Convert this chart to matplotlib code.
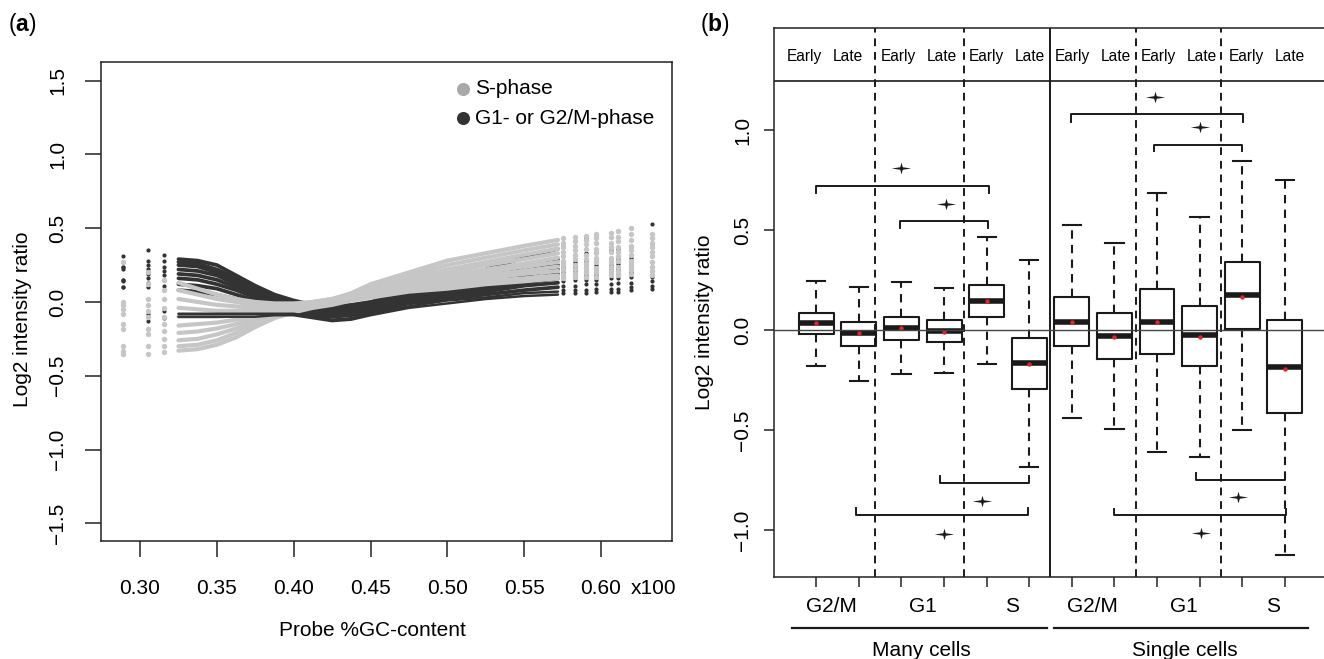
import matplotlib
matplotlib.use("Agg")
import matplotlib.pyplot as plt
from matplotlib.path import Path
from matplotlib.transforms import blended_transform_factory as blend

plt.rcParams['font.family'] = ['Liberation Sans', 'DejaVu Sans']
plt.rcParams['mathtext.fontset'] = 'custom'
plt.rcParams['mathtext.bf'] = 'Liberation Sans:bold'

W, H = 1324, 659

# ---------------- panel (a) data ----------------
gc_knots = [0.325, 0.3375, 0.35, 0.3625, 0.375, 0.3875, 0.40, 0.4125, 0.425, 0.4375,
            0.45, 0.475, 0.50, 0.525, 0.55, 0.572]
gc_left = [0.2887, 0.305, 0.3156]
gc_right = [0.5755, 0.583, 0.590, 0.5965, 0.6064, 0.6111, 0.6195, 0.6329]

# S-phase curves
s_curves = [
    [0.13, 0.09, 0.05, 0.02, 0.00, -0.01, -0.01, 0.00, 0.02, 0.06, 0.12, 0.20, 0.28, 0.33, 0.38, 0.42],
    [0.08, 0.05, 0.02, 0.00, -0.02, -0.02, -0.02, 0.00, 0.02, 0.05, 0.11, 0.18, 0.25, 0.30, 0.35, 0.39],
    [0.02, 0.00, -0.02, -0.03, -0.04, -0.03, -0.03, -0.01, 0.01, 0.05, 0.10, 0.16, 0.22, 0.27, 0.32, 0.36],
    [-0.04, -0.05, -0.06, -0.06, -0.05, -0.04, -0.03, -0.01, 0.01, 0.04, 0.09, 0.15, 0.20, 0.25, 0.29, 0.33],
    [-0.10, -0.10, -0.10, -0.09, -0.07, -0.05, -0.04, -0.02, 0.01, 0.04, 0.08, 0.13, 0.18, 0.22, 0.26, 0.30],
    [-0.16, -0.15, -0.14, -0.12, -0.09, -0.06, -0.04, -0.02, 0.00, 0.03, 0.07, 0.12, 0.16, 0.20, 0.24, 0.27],
    [-0.21, -0.20, -0.18, -0.15, -0.11, -0.07, -0.05, -0.02, 0.00, 0.03, 0.06, 0.10, 0.14, 0.18, 0.21, 0.24],
    [-0.26, -0.25, -0.22, -0.18, -0.13, -0.08, -0.05, -0.03, -0.01, 0.02, 0.05, 0.09, 0.12, 0.16, 0.19, 0.21],
    [-0.30, -0.29, -0.26, -0.21, -0.15, -0.10, -0.06, -0.03, -0.01, 0.02, 0.04, 0.08, 0.11, 0.14, 0.16, 0.18],
    [-0.33, -0.32, -0.29, -0.24, -0.17, -0.11, -0.07, -0.04, -0.02, 0.01, 0.03, 0.07, 0.09, 0.12, 0.14, 0.16],
]
s_left = [
    [0.27, 0.20, 0.15], [0.00, 0.12, 0.08], [-0.02, 0.02, 0.02], [-0.05, -0.02, -0.04],
    [-0.08, -0.06, -0.10], [-0.15, -0.10, -0.15], [-0.18, -0.18, -0.20],
    [-0.30, -0.22, -0.25], [-0.33, -0.30, -0.30], [-0.35, -0.35, -0.34],
]
s_right = [
    [0.43, 0.44, 0.45, 0.46, 0.47, 0.48, 0.50, 0.46],
    [0.40, 0.41, 0.42, 0.43, 0.44, 0.44, 0.46, 0.43],
    [0.37, 0.38, 0.39, 0.40, 0.40, 0.41, 0.42, 0.40],
    [0.34, 0.35, 0.36, 0.36, 0.37, 0.37, 0.38, 0.37],
    [0.31, 0.32, 0.32, 0.33, 0.34, 0.34, 0.35, 0.34],
    [0.28, 0.29, 0.29, 0.30, 0.30, 0.31, 0.32, 0.31],
    [0.25, 0.25, 0.26, 0.27, 0.27, 0.28, 0.28, 0.27],
    [0.22, 0.22, 0.23, 0.23, 0.24, 0.24, 0.25, 0.24],
    [0.19, 0.19, 0.20, 0.20, 0.21, 0.21, 0.22, 0.21],
    [0.16, 0.17, 0.17, 0.17, 0.18, 0.18, 0.19, 0.18],
]
# G1 / G2/M curves
g_curves = [
    [0.29, 0.28, 0.25, 0.18, 0.11, 0.05, 0.01, -0.02, -0.03, -0.02, 0.00, 0.07, 0.14, 0.22, 0.30, 0.36],
    [0.27, 0.26, 0.22, 0.16, 0.09, 0.04, 0.00, -0.03, -0.04, -0.03, -0.01, 0.05, 0.12, 0.18, 0.24, 0.29],
    [0.25, 0.24, 0.20, 0.14, 0.08, 0.03, -0.01, -0.04, -0.05, -0.04, -0.02, 0.04, 0.10, 0.16, 0.21, 0.25],
    [0.22, 0.21, 0.18, 0.12, 0.06, 0.02, -0.02, -0.05, -0.06, -0.05, -0.03, 0.03, 0.08, 0.13, 0.18, 0.22],
    [0.19, 0.18, 0.15, 0.10, 0.05, 0.01, -0.03, -0.06, -0.07, -0.06, -0.04, 0.02, 0.07, 0.11, 0.15, 0.19],
    [0.16, 0.15, 0.12, 0.08, 0.03, 0.00, -0.04, -0.07, -0.08, -0.07, -0.05, 0.01, 0.05, 0.09, 0.13, 0.16],
    [0.12, 0.11, 0.09, 0.05, 0.01, -0.02, -0.05, -0.08, -0.09, -0.08, -0.06, 0.00, 0.04, 0.07, 0.11, 0.13],
    [0.08, 0.07, 0.05, 0.02, -0.01, -0.04, -0.06, -0.09, -0.10, -0.09, -0.07, -0.01, 0.02, 0.05, 0.08, 0.10],
    [-0.08, -0.08, -0.08, -0.08, -0.08, -0.08, -0.08, -0.10, -0.12, -0.11, -0.08, -0.03, 0.01, 0.03, 0.06, 0.07],
    [-0.10, -0.10, -0.10, -0.10, -0.10, -0.09, -0.09, -0.11, -0.13, -0.12, -0.09, -0.04, -0.01, 0.02, 0.04, 0.05],
]
g_left = [
    [0.31, 0.35, 0.32], [0.27, 0.28, 0.28], [0.24, 0.25, 0.24], [0.22, 0.22, 0.21],
    [0.15, 0.19, 0.18], [0.10, 0.16, 0.15], [0.14, 0.13, 0.11], [0.24, 0.10, 0.08],
    [0.10, -0.08, -0.06], [0.15, -0.13, -0.11],
]
g_right = [
    [0.38, 0.41, 0.43, 0.44, 0.47, 0.48, 0.50, 0.53],
    [0.31, 0.32, 0.33, 0.34, 0.35, 0.36, 0.37, 0.39],
    [0.27, 0.27, 0.28, 0.28, 0.29, 0.29, 0.30, 0.31],
    [0.24, 0.24, 0.25, 0.25, 0.25, 0.26, 0.26, 0.27],
    [0.20, 0.21, 0.21, 0.22, 0.22, 0.22, 0.23, 0.24],
    [0.17, 0.18, 0.18, 0.18, 0.19, 0.19, 0.20, 0.21],
    [0.14, 0.15, 0.15, 0.15, 0.16, 0.16, 0.17, 0.17],
    [0.11, 0.11, 0.12, 0.12, 0.12, 0.13, 0.13, 0.14],
    [0.08, 0.08, 0.08, 0.09, 0.09, 0.09, 0.10, 0.11],
    [0.06, 0.06, 0.06, 0.07, 0.07, 0.07, 0.08, 0.09],
]
a_xticks = [0.30, 0.35, 0.40, 0.45, 0.50, 0.55, 0.60]
a_yticks = [-1.5, -1.0, -0.5, 0.0, 0.5, 1.0, 1.5]

# ---------------- panel (b) data ----------------
box_pos = list(range(1, 13))
whislo = [-0.18, -0.255, -0.22, -0.217, -0.172, -0.686, -0.442, -0.497, -0.608, -0.635, -0.502, -1.124]
q1 = [-0.022, -0.08, -0.048, -0.058, 0.065, -0.297, -0.078, -0.147, -0.12, -0.18, 0.005, -0.417]
med = [0.033, -0.017, 0.01, -0.003, 0.145, -0.165, 0.04, -0.03, 0.04, -0.027, 0.175, -0.183]
q3 = [0.087, 0.038, 0.067, 0.05, 0.225, -0.038, 0.163, 0.087, 0.203, 0.118, 0.34, 0.05]
whishi = [0.245, 0.215, 0.238, 0.208, 0.465, 0.35, 0.525, 0.433, 0.685, 0.567, 0.845, 0.75]
means = [0.033, -0.017, 0.01, -0.008, 0.145, -0.17, 0.04, -0.037, 0.04, -0.035, 0.163, -0.195]

header_pos = [0.73, 1.74, 2.93, 3.96, 5.0, 6.02, 7.01, 8.04, 9.04, 10.06, 11.1, 12.12]
header_lab = ["Early", "Late"] * 6
dash_div = [2.38, 4.47, 8.51, 10.51]
solid_div = 6.49
phase_pos = [1.36, 3.5, 5.6, 7.48, 9.64, 11.72]
phase_lab = ["G2/M", "G1", "S", "G2/M", "G1", "S"]
group_span = [(0.43, 6.42), (6.57, 12.54)]
group_mid = [3.46, 9.66]
group_lab = ["Many cells", "Single cells"]

# brackets: (x1, x2, y, tip end)
brackets = [(1.0, 5.05, 0.72, 0.683), (2.96, 5.03, 0.543, 0.508),
            (6.97, 11.02, 1.078, 1.04), (8.92, 10.99, 0.927, 0.893),
            (3.9, 6.0, -0.764, -0.728), (1.93, 5.97, -0.926, -0.89),
            (9.91, 12.0, -0.749, -0.715), (7.99, 12.02, -0.925, -0.897)]
star_x = [3.0, 4.04, 8.96, 10.0, 4.9, 3.99, 10.91, 10.04]
star_y = [0.808, 0.632, 1.167, 1.015, -0.854, -1.019, -0.833, -1.017]
b_yticks = [-1.0, -0.5, 0.0, 0.5, 1.0]

LIGHT = '#c6c6c6'
DARK = '#333333'
FS = 15

fig = plt.figure(figsize=(W / 100, H / 100), dpi=100)
fig.patch.set_facecolor('white')


def fx(p):
    return p / W


def fy(p):
    return 1 - p / H


def lab(v):
    return f"{v:.1f}".replace('-', '\u2212')


# ================= panel (a) =================
ax = fig.add_axes([fx(101.3), fy(541), fx(671.7 - 101.3), (541 - 62.3) / H])
ax.set_xlim(0.2748, 0.646)
ax.set_ylim(-1.62, 1.624)

n_top = 8  # upper dark arrays go under the grey band, the two low ones over it
for i in range(len(g_curves)):
    z = 2 if i < n_top else 4
    lw = 2.7 if i < n_top else 1.8
    ax.plot(gc_knots, g_curves[i], color=DARK, lw=lw, solid_capstyle='round',
            solid_joinstyle='round', zorder=z)
    ax.plot(gc_left, g_left[i], 'o', color=DARK, ms=3.0, mew=0, zorder=2)
    ax.plot(gc_right, g_right[i], 'o', color=DARK, ms=3.0, mew=0, zorder=2)
for i in range(len(s_curves)):
    ax.plot(gc_knots, s_curves[i], color=LIGHT, lw=3.0, solid_capstyle='round',
            solid_joinstyle='round', zorder=3)
    ax.plot(gc_left, s_left[i], 'o', color=LIGHT, ms=3.9, mew=0, zorder=3)
    ax.plot(gc_right, s_right[i], 'o', color=LIGHT, ms=3.9, mew=0, zorder=3)

ax.set_xticks(a_xticks)
ax.set_yticks(a_yticks)
ax.tick_params(direction='out', length=11.3, width=1.1, color='#222222',
               labelbottom=False, labelleft=False)
for s in ax.spines.values():
    s.set_linewidth(1.1)
    s.set_color('#222222')

tb = blend(ax.transData, fig.transFigure)
for v in a_xticks:
    ax.text(v, fy(589), f"{v:.2f}", transform=tb, ha='center', va='center', fontsize=FS)
fig.text(fx(654), fy(589), "x100", ha='center', va='center', fontsize=FS)
tl = blend(fig.transFigure, ax.transData)
for v in a_yticks:
    ax.text(fx(58), v, lab(v), transform=tl, rotation=90, ha='center', va='center', fontsize=FS)

fig.text(fx(372), fy(630), "Probe %GC-content", ha='center', va='center', fontsize=FS)
fig.text(fx(23), fy(319), "Log2 intensity ratio", rotation=90, ha='center', va='center', fontsize=FS)
fig.text(fx(8), fy(25), r"($\mathbf{a}$)", ha='left', va='center', fontsize=16.5)

# legend
for (py, c, t) in [(88.6, '#a8a8a8', "S-phase"), (118.4, DARK, "G1- or G2/M-phase")]:
    ax.plot([fx(463)], [fy(py)], 'o', color=c, ms=9.4, mew=0, transform=fig.transFigure, zorder=5)
    fig.text(fx(475), fy(py), t, ha='left', va='center', fontsize=FS)

# ================= panel (b) =================
bx = fig.add_axes([fx(773.7), fy(577.3), (1327.4 - 773.7) / W, (577.3 - 27.7) / H])
bx.set_xlim(0, 13)
bx.set_ylim(-1.2365, 1.5115)

stats = []
for i in range(12):
    stats.append(dict(whislo=whislo[i], q1=q1[i], med=med[i], q3=q3[i],
                      whishi=whishi[i], mean=means[i], fliers=[]))
bx.bxp(stats, positions=box_pos, widths=0.82, capwidths=0.43, showmeans=True,
       manage_ticks=False,
       boxprops=dict(color='#1a1a1a', lw=1.5),
       whiskerprops=dict(color='#1a1a1a', lw=1.5, linestyle=(0, (4, 3))),
       capprops=dict(color='#1a1a1a', lw=1.5),
       medianprops=dict(color='#1a1a1a', lw=4.0, solid_capstyle='butt'),
       meanprops=dict(marker='o', markerfacecolor='#e3242b', markeredgecolor='none', markersize=3.2))

bx.axhline(0, color='#444444', lw=1.0, zorder=4)
bx.axhline(1.245, color='#1a1a1a', lw=1.2)
for d in dash_div:
    bx.axvline(d, color='#1a1a1a', lw=1.4, linestyle=(0, (4, 3)))
bx.axvline(solid_div, color='#1a1a1a', lw=1.4)

for i, t in enumerate(header_lab):
    bx.text(header_pos[i], 1.367, t, ha='center', va='center', fontsize=11.2)

for (x1, x2, y, tip) in brackets:
    bx.plot([x1, x1, x2, x2], [tip, y, y, tip], color='#1a1a1a', lw=1.4)

star = Path([(1, 0), (0.13, 0.13), (0, 0.6), (-0.13, 0.13), (-1, 0),
             (-0.13, -0.13), (0, -0.6), (0.13, -0.13), (1, 0)])
bx.plot(star_x, star_y, linestyle='none', marker=star, color='#1a1a1a', ms=14, mew=0)

bx.set_xticks(box_pos)
bx.set_yticks(b_yticks)
bx.tick_params(direction='out', length=7.2, width=1.1, color='#222222',
               labelbottom=False, labelleft=False)
for s in bx.spines.values():
    s.set_linewidth(1.1)
    s.set_color('#222222')

tl2 = blend(fig.transFigure, bx.transData)
for v in b_yticks:
    bx.text(fx(742.7), v, lab(v), transform=tl2, rotation=90, ha='center', va='center', fontsize=FS)
fig.text(fx(704.5), fy(322), "Log2 intensity ratio", rotation=90, ha='center', va='center', fontsize=FS)
fig.text(fx(700), fy(24), r"($\mathbf{b}$)", ha='left', va='center', fontsize=16.5)

tb2 = blend(bx.transData, fig.transFigure)
for p, t in zip(phase_pos, phase_lab):
    bx.text(p, fy(606.7), t, transform=tb2, ha='center', va='center', fontsize=FS)
for (a, b), m, t in zip(group_span, group_mid, group_lab):
    bx.plot([a, b], [fy(628.3)] * 2, transform=tb2, color='#1a1a1a', lw=1.6, clip_on=False)
    bx.text(m, fy(650), t, transform=tb2, ha='center', va='center', fontsize=FS)

fig.savefig("out.png", dpi=100)
